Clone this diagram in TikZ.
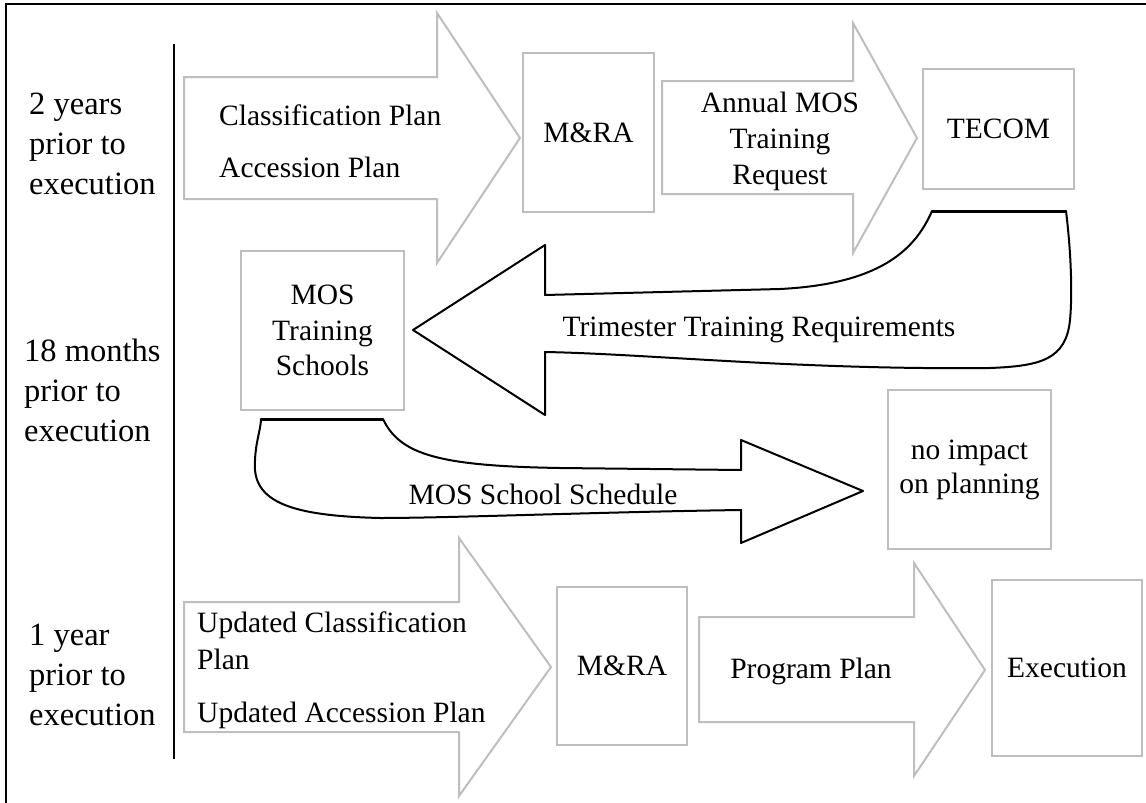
\documentclass[tikz,border=0pt]{standalone}
\usepackage{fontspec}
\setmainfont{Liberation Serif}
\definecolor{boxgray}{RGB}{190,190,190}
\begin{document}
\begin{tikzpicture}[x=1pt,y=-1pt,
  graybox/.style={draw=boxgray, line width=2pt, inner sep=0pt, align=center, font=\fontsize{29.5}{35.5}\selectfont},
  grayarrow/.style={draw=boxgray, line width=2pt, line join=miter, fill=white},
  blackarrow/.style={draw=black, line width=2pt, line join=round, fill=white},
  lbl/.style={inner sep=0pt, align=left, anchor=west, font=\fontsize{32.5}{40}\selectfont},
  txt/.style={inner sep=0pt, font=\fontsize{29.5}{36}\selectfont}
]
\useasboundingbox (0,0) rectangle (1146,803);
% frame (top and left only)
\draw[line width=2pt] (6,803) -- (6,4) -- (1146,4);
\draw[line width=2pt] (174,44) -- (174,759);

% time labels
\node[lbl] (t1) at (29,144) {2 years\\prior to\\execution};
\node[lbl] (t2) at (24,390) {18 months\\prior to\\execution};
\node[lbl] (t3) at (29,675) {1 year\\prior to\\execution};

% gray block arrows
\draw[grayarrow] (184,77) -- (437,77) -- (437,13) -- (520,138) -- (437,263) -- (437,199) -- (184,199) -- cycle;
\draw[grayarrow] (662,81) -- (853,81) -- (853,23) -- (917,138) -- (853,253) -- (853,194) -- (662,194) -- cycle;
\draw[grayarrow] (184,602) -- (459,602) -- (459,538) -- (551,667) -- (459,796) -- (459,732) -- (184,732) -- cycle;
\draw[grayarrow] (699,617) -- (914,617) -- (914,563) -- (985,670) -- (914,776) -- (914,722) -- (699,722) -- cycle;

% black curved arrows
\draw[blackarrow] (932,211) -- (1066,211)
  .. controls (1072,260) and (1072,300) .. (1070,320)
  .. controls (1066,360) and (1040,366) .. (990,368)
  .. controls (800,370) and (650,354) .. (545,352)
  -- (545,415) -- (413,330) -- (545,245) -- (545,295)
  -- (780,289) .. controls (880,284) and (915,250) .. (932,211) -- cycle;
\draw[line width=3pt] (932,211) -- (1066,211);
\draw[blackarrow] (261,419) -- (383,419)
  .. controls (400,455) and (440,466) .. (560,468) -- (741,470)
  -- (741,440) -- (863,491) -- (741,543) -- (741,510)
  .. controls (600,512) and (450,518) .. (380,518)
  .. controls (300,516) and (258,505) .. (255,470)
  .. controls (254,445) and (261,430) .. (261,419) -- cycle;
\draw[line width=3pt] (261,419) -- (383,419);

% boxes
\node[graybox, minimum width=131pt, minimum height=159pt] (mra1) at (588.5,132.5) {M\&RA};
\node[graybox, minimum width=151pt, minimum height=120pt] (tecom) at (998.5,129) {TECOM};
\node[graybox, minimum width=163pt, minimum height=159pt] (schools) at (322.5,330.5) {MOS\\Training\\Schools};
\node[graybox, minimum width=163pt, minimum height=159pt, font=\fontsize{29.5}{34}\selectfont] (noimp) at (969.5,469.5) {no impact\\on planning};
\node[graybox, minimum width=130pt, minimum height=158pt] (mra2) at (622,666) {M\&RA};
\node[graybox, minimum width=150pt, minimum height=176pt] (exec) at (1067,668) {Execution};

% arrow texts
\node[txt, align=left, anchor=west, font=\fontsize{29.5}{52}\selectfont] (cp) at (219,141) {Classification Plan\\Accession Plan};
\node[txt, align=center] (amtr) at (780,141) {Annual MOS\\Training\\Request};
\node[txt, align=left, anchor=west, font=\fontsize{29.5}{37}\selectfont] (ucp) at (197,670) {Updated Classification\\Plan\\[16pt]Updated Accession Plan};
\node[txt] (pp) at (811,671) {Program Plan};
\node[txt] (ttr) at (759,330) {Trimester Training Requirements};
\node[txt] (mss) at (543,494) {MOS School Schedule};
\end{tikzpicture}
\end{document}
